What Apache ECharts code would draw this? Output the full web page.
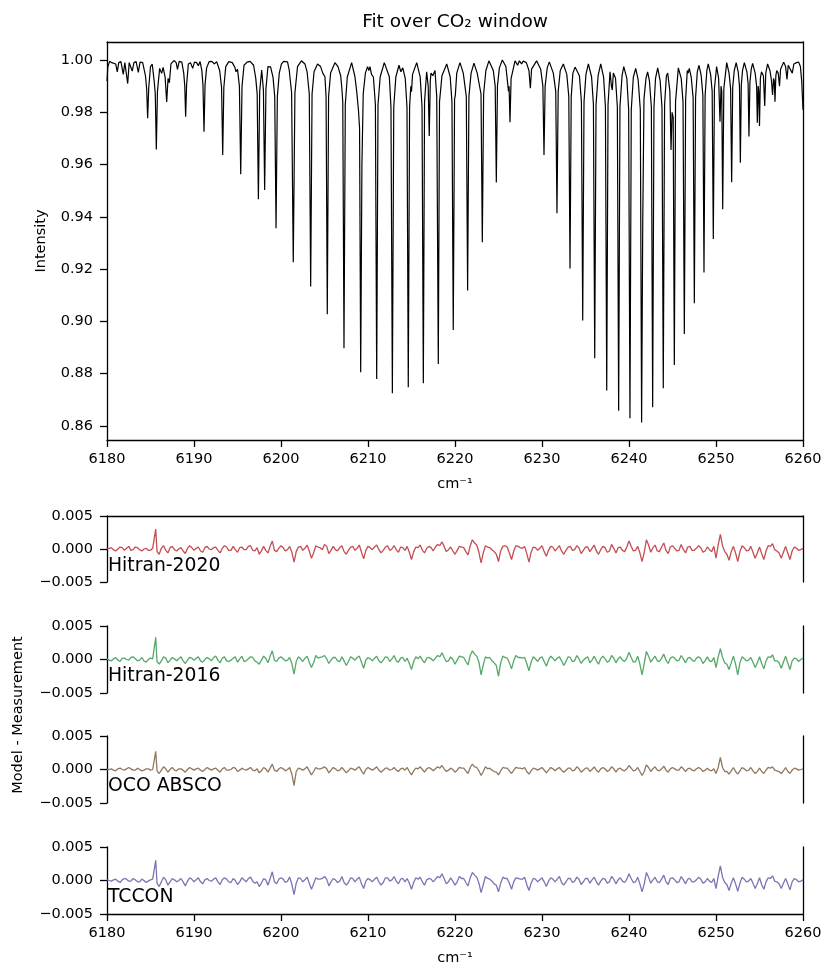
<!DOCTYPE html>
<html><head><meta charset="utf-8">
<script src="https://cdn.jsdelivr.net/npm/echarts@6/dist/echarts.min.js"></script>
<style>html,body{margin:0;padding:0;background:#fff}#c{width:827px;height:963px}</style>
</head><body><div id="c"></div><script>
// ---------- DATA ----------
const xTicks = [6180, 6190, 6200, 6210, 6220, 6230, 6240, 6250, 6260];
const yTicksTop = [0.86, 0.88, 0.90, 0.92, 0.94, 0.96, 0.98, 1.00];
const yTicksRes = [-0.005, 0.000, 0.005];

// spectrum trace [wavenumber cm-1, intensity]
const spec6180 = [[6180.00,0.9920],[6180.10,0.9975],[6180.30,0.9995],[6180.55,0.9990],[6180.75,0.9994],[6181.00,0.9985],[6181.18,0.9955],[6181.35,0.9990],[6181.60,0.9994],[6181.87,0.9945],[6182.05,0.9990],[6182.20,0.9986],[6182.38,0.9910],[6182.55,0.9990],[6182.70,0.9994],[6182.90,0.9958],[6183.10,0.9990],[6183.35,0.9994],[6183.60,0.9953],[6183.80,0.9992],[6184.10,0.9990],[6184.42,0.9940],[6184.56,0.9890],[6184.67,0.9777],[6184.80,0.9895],[6185.00,0.9975],[6185.20,0.9984],[6185.42,0.9920],[6185.55,0.9870],[6185.67,0.9658],[6185.80,0.9880],[6186.05,0.9968],[6186.28,0.9949],[6186.45,0.9972],[6186.68,0.9935],[6186.86,0.9840],[6187.02,0.9930],[6187.17,0.9913],[6187.35,0.9985],[6187.70,0.9998],[6187.95,0.9990],[6188.10,0.9964],[6188.30,0.9995],[6188.60,0.9992],[6188.82,0.9950],[6188.94,0.9900],[6189.04,0.9783],[6189.15,0.9905],[6189.35,0.9985],[6189.60,0.9990],[6189.85,0.9968],[6190.05,0.9992],[6190.30,0.9990],[6190.50,0.9978],[6190.70,0.9994],[6190.90,0.9960],[6191.03,0.9905],[6191.15,0.9726],[6191.27,0.9905],[6191.45,0.9970],[6191.75,0.9994],[6192.05,0.9995],[6192.35,0.9985],[6192.60,0.9994],[6192.95,0.9960],[6193.17,0.9895],[6193.30,0.9637],[6193.43,0.9895],[6193.65,0.9975],[6194.00,0.9994],[6194.40,0.9990],[6194.70,0.9972],[6194.83,0.9955],[6195.00,0.9965],[6195.22,0.9900],[6195.37,0.9563],[6195.52,0.9900],[6195.75,0.9980],[6196.10,0.9992],[6196.45,0.9995],[6196.85,0.9980],[6197.10,0.9930],[6197.26,0.9870],[6197.40,0.9467],[6197.55,0.9880],[6197.78,0.9962],[6197.98,0.9885],[6198.12,0.9503],[6198.27,0.9890],[6198.50,0.9975],[6198.80,0.9974],[6199.08,0.9935],[6199.28,0.9860],[6199.43,0.9356],[6199.58,0.9860],[6199.80,0.9950]];
const spec6200 = [[6200.05,0.9985],[6200.30,0.9995],[6200.50,0.9990],[6200.75,0.9993],[6200.95,0.9960],[6201.22,0.9875],[6201.41,0.9226],[6201.60,0.9875],[6201.90,0.9975],[6202.35,0.9997],[6202.75,0.9985],[6203.00,0.9955],[6203.10,0.9950],[6203.25,0.9870],[6203.41,0.9133],[6203.57,0.9870],[6203.80,0.9955],[6204.20,0.9985],[6204.55,0.9975],[6204.80,0.9950],[6205.05,0.9936],[6205.18,0.9860],[6205.32,0.9027],[6205.47,0.9860],[6205.70,0.9950],[6206.20,0.9990],[6206.55,0.9975],[6206.86,0.9940],[6207.00,0.9890],[6207.10,0.9840],[6207.24,0.8897],[6207.39,0.9830],[6207.62,0.9935],[6208.12,0.9990],[6208.50,0.9936],[6208.70,0.9880],[6208.90,0.9810],[6209.03,0.9740],[6209.16,0.8805],[6209.30,0.9595],[6209.45,0.9870],[6209.70,0.9950],[6209.95,0.9975],[6210.10,0.9960],[6210.23,0.9975],[6210.40,0.9945],[6210.62,0.9935],[6210.85,0.9830],[6211.00,0.8779],[6211.15,0.9830],[6211.40,0.9935],[6211.87,0.9990],[6212.45,0.9936],[6212.64,0.9820],[6212.80,0.8725],[6212.96,0.9820],[6213.20,0.9935],[6213.56,0.9980],[6213.78,0.9955],[6214.00,0.9970],[6214.28,0.9930],[6214.48,0.9820],[6214.63,0.8748],[6214.78,0.9820],[6214.92,0.9900],[6215.00,0.9879],[6215.12,0.9945],[6215.60,0.9990],[6216.00,0.9935],[6216.21,0.9820],[6216.36,0.8763],[6216.50,0.9840],[6216.74,0.9955],[6216.92,0.9900],[6217.04,0.9709],[6217.16,0.9920],[6217.24,0.9950],[6217.45,0.9940],[6217.70,0.9960],[6217.90,0.9860],[6218.08,0.8837],[6218.22,0.9840],[6218.50,0.9940],[6219.05,0.9985],[6219.45,0.9935],[6219.65,0.9840],[6219.80,0.8967],[6219.95,0.9850]];
const spec6220 = [[6220.04,0.9866],[6220.20,0.9950],[6220.57,0.9990],[6220.95,0.9950],[6221.30,0.9860],[6221.45,0.9118],[6221.60,0.9860],[6221.85,0.9950],[6222.18,0.9988],[6222.55,0.9950],[6222.99,0.9870],[6223.14,0.9303],[6223.29,0.9870],[6223.55,0.9960],[6223.90,0.9997],[6224.40,0.9960],[6224.62,0.9900],[6224.75,0.9531],[6224.88,0.9900],[6225.10,0.9970],[6225.44,1.0000],[6225.85,0.9975],[6226.15,0.9880],[6226.22,0.9900],[6226.32,0.9762],[6226.45,0.9930],[6226.90,0.9997],[6227.10,0.9992],[6227.20,0.9980],[6227.40,0.9997],[6227.65,0.9985],[6227.85,0.9996],[6228.20,0.9990],[6228.50,0.9960],[6228.66,0.9892],[6228.80,0.9965],[6229.38,0.9997],[6229.85,0.9965],[6230.10,0.9900],[6230.23,0.9637],[6230.36,0.9900],[6230.60,0.9970],[6230.84,0.9993],[6231.30,0.9950],[6231.58,0.9880],[6231.72,0.9414],[6231.86,0.9880],[6232.10,0.9960],[6232.45,0.9985],[6232.85,0.9945],[6233.08,0.9860],[6233.22,0.9202],[6233.36,0.9860],[6233.55,0.9950],[6233.65,0.9955],[6233.80,0.9973],[6234.30,0.9940],[6234.53,0.9840],[6234.68,0.9003],[6234.83,0.9840],[6235.05,0.9945],[6235.33,0.9985],[6235.70,0.9935],[6235.91,0.9830],[6236.06,0.8859],[6236.21,0.9830],[6236.45,0.9940],[6236.75,0.9985],[6237.08,0.9935],[6237.29,0.9820],[6237.44,0.8735],[6237.59,0.9830],[6237.82,0.9955],[6237.98,0.9900],[6238.08,0.9885],[6238.20,0.9950],[6238.45,0.9930],[6238.66,0.9820],[6238.81,0.8658],[6238.96,0.9820],[6239.20,0.9940],[6239.40,0.9975],[6239.75,0.9930],[6239.96,0.9810],[6240.11,0.8629],[6240.26,0.9810]];
const spec6240 = [[6240.50,0.9935],[6240.77,0.9968],[6241.05,0.9925],[6241.30,0.9810],[6241.45,0.8613],[6241.58,0.9380],[6241.72,0.9850],[6241.95,0.9930],[6242.14,0.9955],[6242.35,0.9920],[6242.57,0.9820],[6242.72,0.8671],[6242.87,0.9820],[6243.05,0.9930],[6243.30,0.9970],[6243.58,0.9920],[6243.79,0.9820],[6243.94,0.8744],[6244.09,0.9830],[6244.30,0.9940],[6244.45,0.9950],[6244.70,0.9880],[6244.83,0.9656],[6244.95,0.9800],[6245.08,0.9780],[6245.21,0.8833],[6245.35,0.9840],[6245.67,0.9970],[6246.00,0.9930],[6246.21,0.9840],[6246.36,0.8952],[6246.51,0.9850],[6246.70,0.9960],[6246.80,0.9950],[6246.93,0.9968],[6247.15,0.9935],[6247.37,0.9855],[6247.51,0.9069],[6247.65,0.9855],[6247.85,0.9955],[6248.05,0.9980],[6248.30,0.9940],[6248.49,0.9865],[6248.62,0.9187],[6248.75,0.9865],[6248.95,0.9960],[6249.11,0.9985],[6249.38,0.9945],[6249.56,0.9880],[6249.69,0.9315],[6249.82,0.9890],[6250.07,0.9975],[6250.30,0.9930],[6250.46,0.9764],[6250.58,0.9900],[6250.66,0.9880],[6250.77,0.9429],[6250.90,0.9890],[6251.23,0.9990],[6251.50,0.9950],[6251.68,0.9890],[6251.80,0.9532],[6251.92,0.9895],[6252.10,0.9960],[6252.32,0.9990],[6252.55,0.9955],[6252.70,0.9900],[6252.80,0.9607],[6252.91,0.9905],[6253.05,0.9960],[6253.26,0.9990],[6253.55,0.9955],[6253.69,0.9910],[6253.79,0.9707],[6253.90,0.9915],[6254.05,0.9965],[6254.21,0.9987],[6254.50,0.9950],[6254.67,0.9900],[6254.75,0.9760],[6254.85,0.9900],[6254.92,0.9880],[6255.00,0.9748],[6255.10,0.9930],[6255.23,0.9955],[6255.45,0.9940],[6255.60,0.9824],[6255.72,0.9950],[6255.93,0.9985],[6256.20,0.9960],[6256.38,0.9920],[6256.50,0.9866],[6256.62,0.9930],[6256.70,0.9920],[6256.78,0.9840],[6256.88,0.9940],[6256.98,0.9960],[6257.15,0.9950],[6257.30,0.9900],[6257.42,0.9965],[6257.78,0.9992],[6258.00,0.9975],[6258.16,0.9926],[6258.30,0.9980],[6258.50,0.9975],[6258.77,0.9950],[6258.95,0.9985],[6259.25,0.9990],[6259.50,0.9992],[6259.70,0.9975],[6259.85,0.9920],[6260.00,0.9810]];

// residual sampling grids (cm-1): half-integer points and the quarter points between them
const resWn = [
6180,6180.5,6181,6181.5,6182,6182.5,6183,6183.5,6184,6184.5,6185,6185.6,6186,6186.5,6187,6187.5,6188,6188.5,6189,6189.5,
6190,6190.5,6191,6191.5,6192,6192.5,6193,6193.5,6194,6194.5,6195,6195.5,6196,6196.5,6197,6197.5,6198,6198.5,6199,6199.5,
6200,6200.5,6201,6201.5,6202,6202.5,6203,6203.5,6204,6204.5,6205,6205.5,6206,6206.5,6207,6207.5,6208,6208.5,6209,6209.5,
6210,6210.5,6211,6211.5,6212,6212.5,6213,6213.5,6214,6214.5,6215,6215.5,6216,6216.5,6217,6217.5,6218,6218.5,6219,6219.5,
6220,6220.5,6221,6221.5,6222,6222.5,6223,6223.5,6224,6224.5,6225,6225.5,6226,6226.5,6227,6227.5,6228,6228.5,6229,6229.5,
6230,6230.5,6231,6231.5,6232,6232.5,6233,6233.5,6234,6234.5,6235,6235.5,6236,6236.5,6237,6237.5,6238,6238.5,6239,6239.5,
6240,6240.5,6241,6241.5,6242,6242.5,6243,6243.5,6244,6244.5,6245,6245.5,6246,6246.5,6247,6247.5,6248,6248.5,6249,6249.5,
6250,6250.5,6251,6251.5,6252,6252.5,6253,6253.5,6254,6254.5,6255,6255.5,6256,6256.5,6257,6257.5,6258,6258.5,6259,6259.5,
6260];
const resWnQ = [
6180.25,6180.75,6181.25,6181.75,6182.25,6182.75,6183.25,6183.75,6184.25,6184.75,6185.25,6185.75,6186.25,6186.75,6187.25,6187.75,6188.25,6188.75,6189.25,6189.75,
6190.25,6190.75,6191.25,6191.75,6192.25,6192.75,6193.25,6193.75,6194.25,6194.75,6195.25,6195.75,6196.25,6196.75,6197.25,6197.75,6198.25,6198.75,6199.25,6199.75,
6200.25,6200.75,6201.25,6201.75,6202.25,6202.75,6203.25,6203.75,6204.25,6204.75,6205.25,6205.75,6206.25,6206.75,6207.25,6207.75,6208.25,6208.75,6209.25,6209.75,
6210.25,6210.75,6211.25,6211.75,6212.25,6212.75,6213.25,6213.75,6214.25,6214.75,6215.25,6215.75,6216.25,6216.75,6217.25,6217.75,6218.25,6218.75,6219.25,6219.75,
6220.25,6220.75,6221.25,6221.75,6222.25,6222.75,6223.25,6223.75,6224.25,6224.75,6225.25,6225.75,6226.25,6226.75,6227.25,6227.75,6228.25,6228.75,6229.25,6229.75,
6230.25,6230.75,6231.25,6231.75,6232.25,6232.75,6233.25,6233.75,6234.25,6234.75,6235.25,6235.75,6236.25,6236.75,6237.25,6237.75,6238.25,6238.75,6239.25,6239.75,
6240.25,6240.75,6241.25,6241.75,6242.25,6242.75,6243.25,6243.75,6244.25,6244.75,6245.25,6245.75,6246.25,6246.75,6247.25,6247.75,6248.25,6248.75,6249.25,6249.75,
6250.25,6250.75,6251.25,6251.75,6252.25,6252.75,6253.25,6253.75,6254.25,6254.75,6255.25,6255.75,6256.25,6256.75,6257.25,6257.75,6258.25,6258.75,6259.25,6259.75];

// residuals (Model - Measurement), in units of 1e-4, on resWn
const res2020 = [
0,2,-3,3,-2,4,-1,2,-3,1,-2,30,-8,5,-6,4,-3,2,-7,5,
-2,3,-5,4,-1,3,-6,5,-2,4,-5,3,-1,5,-3,-8,4,-6,12,-4,
5,-3,4,-20,3,-2,6,-14,5,2,7,-7,4,-3,5,-8,3,-2,6,-15,
4,-1,6,-6,3,-2,5,-5,2,4,-16,3,6,-6,4,-3,7,11,-4,3,
-8,4,2,-9,14,6,-21,5,2,-4,-19,4,3,-16,5,2,4,-20,3,-2,
5,-11,4,-3,5,-8,3,-2,5,-7,3,-4,6,-8,4,-5,7,-6,3,-4,
12,-3,4,-19,14,-5,6,-4,9,-7,5,-3,7,-6,4,-2,5,-5,3,-4,
-14,22,-4,-17,4,-19,5,-3,4,-14,3,-16,5,8,-3,-14,4,-16,3,-2,
1];
const res2016 = [
1,-2,3,-3,2,-1,4,-2,3,-4,2,33,-7,4,-5,3,-2,4,-6,3,
-1,4,-4,3,-2,5,-5,4,-3,2,-4,5,-2,4,-2,-7,5,-5,13,-3,
4,-2,3,-22,4,-3,5,-12,6,3,6,-6,3,-2,4,-9,4,-1,5,-13,
3,-2,5,-5,4,-3,6,-4,3,2,-15,4,5,-5,3,-2,6,10,-3,4,
-7,5,3,-8,13,5,-23,4,3,-5,-25,5,2,-14,6,3,3,-17,4,-3,
4,-10,5,-2,4,-9,4,-3,6,-6,2,-5,5,-7,5,-4,6,-5,4,-3,
11,-4,5,-23,12,-4,5,-3,8,-6,4,-2,6,-5,3,-3,4,-6,4,-3,
-12,16,-5,-15,5,-23,4,-2,3,-12,4,-14,4,7,-2,-13,5,-15,2,-3,
2];
const resOco = [
0,1,-2,2,-1,3,-1,2,-2,1,-1,27,-6,4,-4,3,-2,1,-4,3,
-1,2,-3,3,-1,2,-4,3,-1,3,-3,2,-1,3,-2,-5,3,-4,8,-3,
3,-2,3,-24,2,-1,4,-8,3,1,4,-5,3,-2,3,-5,2,-1,4,-7,
3,-1,4,-4,2,-1,3,-3,2,3,-8,2,4,-4,3,-2,4,6,-3,2,
-4,3,2,-6,8,3,-9,4,2,-3,-8,3,2,-6,3,2,3,-7,2,-1,
3,-5,3,-2,3,-4,2,-2,4,-4,2,-3,4,-4,3,-3,4,-4,2,-2,
6,-2,3,-9,7,-3,4,-2,5,-4,3,-1,4,-3,2,-2,3,-3,2,-2,
-6,18,-3,-7,3,-7,3,-2,3,-6,2,-6,3,4,-2,-6,3,-6,2,-1,
1];
const resTccon = [
1,-1,2,-3,3,-1,3,-2,2,-3,1,30,-9,5,-7,3,-2,3,-8,4,
-2,4,-5,3,-1,4,-6,4,-2,3,-6,4,-2,5,-4,-9,3,-7,13,-5,
4,-3,5,-21,4,-2,5,-13,4,2,6,-8,3,-3,6,-7,4,-2,5,-12,
3,-2,5,-7,4,-1,6,-5,3,3,-13,4,5,-7,3,-2,6,10,-5,4,
-7,6,3,-8,12,5,-18,6,2,-5,-17,5,3,-13,4,2,5,-15,3,-2,
4,-9,4,-2,6,-7,3,-3,5,-6,3,-4,5,-7,3,-4,6,-5,4,-3,
10,-3,5,-17,12,-4,5,-3,8,-6,4,-3,6,-5,3,-2,5,-4,3,-3,
-12,22,-3,-15,4,-16,5,-2,3,-12,4,-13,4,7,-2,-12,3,-14,3,-2,
1];
// residuals on resWnQ (units of 1e-4)
const res2020Q = [
1,-1,0,2,1,-2,3,-1,0,-2,1,-4,1,-2,2,-1,0,-3,1,2,
1,-3,2,0,2,-2,1,3,-2,-1,2,-1,4,-2,2,-3,-2,4,-2,1,
2,-1,-5,-4,4,1,-3,-6,3,-1,4,-2,-1,2,-4,-2,4,1,-5,-2,
2,3,-1,-2,5,0,-1,3,-2,-5,-4,2,-2,1,2,3,5,4,-1,-3,
-2,3,-4,5,9,-5,-6,3,-1,-8,-3,5,-6,-3,4,1,-7,-5,2,1,
-4,-2,3,1,-3,-2,4,-1,2,-2,3,1,-3,-1,2,-3,1,2,-2,3,
4,-2,-6,-5,6,2,-3,3,-2,3,1,-2,-1,3,-2,1,2,-3,-1,4,
6,5,-8,-4,-6,-4,2,-2,-5,-6,-7,-3,4,-1,-6,-5,-6,-3,1,-1];
const res2016Q = [
-1,1,-1,2,0,3,1,-1,-2,0,1,-3,-2,2,-1,1,1,-2,-1,2,
2,-2,0,1,3,-1,2,-2,-1,4,1,-3,1,3,-4,-1,2,5,-1,2,
1,-1,-6,-3,1,2,-4,-5,2,4,1,-1,3,-3,-2,-3,2,3,-4,-1,
1,2,-2,-1,3,1,-2,2,-3,-6,-3,1,-1,2,1,2,4,3,-2,0,
-1,4,-3,6,8,-4,-8,2,-2,-9,-5,3,-5,-2,3,2,-6,-4,1,2,
-3,-1,2,2,-2,-3,3,-2,1,-1,4,-1,-2,1,1,-2,2,1,-1,2,
3,-3,-7,-6,5,1,-2,2,-1,2,2,-1,1,2,-1,2,1,-2,-2,3,
4,3,-7,-5,-7,-5,1,-1,-4,-5,-6,-2,3,-2,-5,-4,-5,-2,1,0];
const resOcoQ = [
0,-1,1,0,1,1,-1,0,-1,1,0,-2,-1,1,0,-1,1,-1,0,1,
1,-1,0,1,1,-1,1,-1,0,2,-1,0,1,-1,1,-2,1,2,-1,1,
1,0,-7,-3,1,1,-2,-3,1,2,1,-1,1,-1,-1,-2,1,2,-2,0,
1,1,-1,-1,2,0,-1,1,-1,-3,-2,1,0,1,1,1,2,1,-1,0,
-1,2,-2,3,4,-2,-3,1,-1,-4,-2,2,-2,-1,2,1,-3,-2,1,1,
-1,-1,1,1,-1,-1,2,-1,1,-1,2,0,-1,1,1,-1,1,1,-1,1,
2,-1,-3,-3,3,1,-1,1,-1,1,1,-1,1,1,-1,1,1,-1,-1,1,
3,3,-3,-2,-3,-2,1,-1,-2,-3,-3,-1,2,-1,-3,-2,-3,-1,1,0];
const resTcconQ = [
0,1,-1,1,2,-1,1,-2,0,-1,2,-4,-2,1,-2,1,0,-2,-1,2,
1,-2,1,0,2,-2,1,2,-3,0,-2,1,3,-1,-2,-4,1,3,-2,2,
2,-1,-6,-4,3,1,-4,-5,2,3,2,-2,1,-1,-3,-3,3,2,-5,-1,
1,2,-2,-3,4,1,-1,2,-2,-4,-3,2,-2,1,2,2,4,3,-2,-1,
-2,3,-3,4,8,-4,-6,3,-1,-7,-4,3,-4,-2,3,2,-6,-4,2,1,
-2,-1,2,2,-3,-2,3,-1,2,-2,3,1,-2,-1,2,-2,2,1,-1,2,
3,-2,-5,-5,5,1,-2,2,-2,3,1,-2,1,2,-2,1,2,-2,-1,3,
6,5,-6,-4,-5,-4,2,-1,-4,-5,-6,-2,3,-1,-5,-4,-5,-2,1,-1];

const resNames = ['Hitran-2020', 'Hitran-2016', 'OCO ABSCO', 'TCCON'];
const resColors = ['#C44E52', '#55A868', '#937860', '#8172B3'];

// ---------- CHART ----------
const FONT = 'DejaVu Sans';
const BLACK = '#000';
const spine = {color: BLACK, width: 1.3};
const tickFont = {fontFamily: FONT, fontSize: 14.5, color: BLACK};

const gridTops = [516, 626, 736, 847];
const gridH = [66, 67, 67, 67];
const grids = [{left: 107, top: 42, width: 696, height: 398, outerBoundsMode: 'none', containLabel: false}];
gridTops.forEach((t, i) => grids.push({left: 107, top: t, width: 696, height: gridH[i], outerBoundsMode: 'none', containLabel: false}));

const X0 = xTicks[0], X1 = xTicks[xTicks.length - 1];
const topMin = 0.8546, topMax = 1.0069;

function spineX(g, pos) {
  return {type: 'value', gridIndex: g, position: pos, min: X0, max: X1,
    axisLine: {show: true, onZero: false, lineStyle: spine}, axisTick: {show: false},
    axisLabel: {show: false}, splitLine: {show: false}};
}
function spineY(g, min, max) {
  return {type: 'value', gridIndex: g, position: 'right', min: min, max: max,
    axisLine: {show: true, onZero: false, lineStyle: spine}, axisTick: {show: false},
    axisLabel: {show: false}, splitLine: {show: false}};
}
function labelledX(g) {
  return {type: 'value', gridIndex: g, position: 'bottom', min: X0, max: X1, interval: 10,
    axisLine: {show: true, onZero: false, lineStyle: spine},
    axisTick: {show: true, inside: false, length: 7, lineStyle: spine},
    axisLabel: Object.assign({margin: 12, formatter: v => String(v)}, tickFont),
    splitLine: {show: false},
    name: 'cm\u207B\u00B9', nameLocation: 'middle', nameGap: 37, nameTextStyle: tickFont};
}
const resFmt = v => Math.abs(v) < 1e-9 ? '0.000' : (v < 0 ? '\u2212' : '') + Math.abs(v).toFixed(3);

const xAxis = [
  labelledX(0),                  // 0
  spineX(0, 'top'),              // 1
  {type: 'value', gridIndex: 1, min: X0, max: X1, show: false},  // 2
  spineX(1, 'top'),              // 3
  {type: 'value', gridIndex: 2, min: X0, max: X1, show: false},  // 4
  {type: 'value', gridIndex: 3, min: X0, max: X1, show: false},  // 5
  labelledX(4)                   // 6
];
const yAxis = [
  {type: 'value', gridIndex: 0, position: 'left', min: topMin, max: topMax,
   axisLine: {show: true, onZero: false, lineStyle: spine},
   axisTick: {show: true, inside: false, length: 7, lineStyle: spine, customValues: yTicksTop},
   axisLabel: Object.assign({margin: 14, customValues: yTicksTop, formatter: v => v.toFixed(2)}, tickFont),
   splitLine: {show: false},
   name: 'Intensity', nameLocation: 'middle', nameGap: 58, nameTextStyle: tickFont},
  spineY(0, topMin, topMax)
];
for (let k = 1; k <= 4; k++) {
  yAxis.push({type: 'value', gridIndex: k, position: 'left', min: yTicksRes[0], max: yTicksRes[2], interval: 0.005,
    axisLine: {show: true, onZero: false, lineStyle: spine},
    axisTick: {show: true, inside: false, length: 7, lineStyle: spine},
    axisLabel: Object.assign({margin: 14, formatter: resFmt}, tickFont),
    splitLine: {show: false}});
  yAxis.push(spineY(k, yTicksRes[0], yTicksRes[2]));
}

const spectrum = spec6180.concat(spec6200, spec6220, spec6240);
const resMain = [res2020, res2016, resOco, resTccon];
const resQuarter = [res2020Q, res2016Q, resOcoQ, resTcconQ];
const resX = [2, 4, 5, 6];
const series = [{
  type: 'line', xAxisIndex: 0, yAxisIndex: 0, data: spectrum, showSymbol: false,
  lineStyle: {color: BLACK, width: 1.2}, silent: true, animation: false
}];
resMain.forEach((vals, i) => {
  const pts = resWn.map((w, j) => [w, vals[j] * 1e-4])
    .concat(resWnQ.map((w, j) => [w, resQuarter[i][j] * 1e-4]))
    .sort((a, b) => a[0] - b[0]);
  series.push({type: 'line', xAxisIndex: resX[i], yAxisIndex: 2 + 2 * i,
    data: pts, showSymbol: false,
    lineStyle: {color: resColors[i], width: 1.3}, silent: true, animation: false});
});

const labelBase = [566.5, 676.5, 786.5, 897.5];
const graphic = [
  {type: 'text', x: 455, y: 22, style: {text: 'Fit over CO\u2082 window', fontFamily: FONT, fontSize: 18.5, fill: BLACK, align: 'center', verticalAlign: 'middle'}},
  {type: 'text', x: 18, y: 715, rotation: Math.PI / 2, style: {text: 'Model - Measurement', fontFamily: FONT, fontSize: 14.5, fill: BLACK, align: 'center', verticalAlign: 'middle'}}
];
resNames.forEach((n, i) => graphic.push({type: 'text', x: 108, y: labelBase[i],
  style: {text: n, fontFamily: FONT, fontSize: 18.8, fill: BLACK, align: 'left', verticalAlign: 'middle'}}));

const chart = echarts.init(document.getElementById('c'), null, {renderer: 'canvas'});
chart.setOption({
  animation: false,
  backgroundColor: '#fff',
  grid: grids, xAxis: xAxis, yAxis: yAxis, series: series, graphic: graphic
});
</script></body></html>
